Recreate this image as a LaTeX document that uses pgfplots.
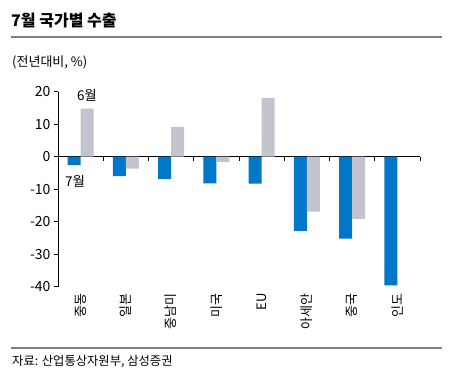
\documentclass[border=0pt]{standalone}
\usepackage{fontspec}
\setmainfont{Noto Sans CJK KR}
\usepackage{pgfplots}
\pgfplotsset{compat=1.18}
\definecolor{barblue}{RGB}{0,119,200}
\definecolor{bargray}{RGB}{195,196,206}
\definecolor{rulegray}{RGB}{128,128,128}
\begin{document}
\begin{tikzpicture}
\useasboundingbox (0,0) rectangle (449pt,374pt);
\node[anchor=west, font=\fontsize{16}{19}\selectfont\bfseries, inner sep=0] at (11pt,353pt) {7월 국가별 수출};
\draw[rulegray, line width=1.8pt] (11pt,337.3pt) -- (442pt,337.3pt);
\node[anchor=west, font=\fontsize{13}{15}\selectfont, inner sep=0] at (12pt,312pt) {(전년대비, \%)};
\draw[rulegray, line width=1.8pt] (11pt,25.7pt) -- (442pt,25.7pt);
\node[anchor=west, font=\fontsize{12.3}{14}\selectfont, inner sep=0] at (12pt,12pt) {자료: 산업통상자원부, 삼성증권};
\begin{axis}[
  at={(58pt,87.3pt)}, anchor=south west,
  scale only axis, width=362pt, height=195pt,
  xmin=0.5, xmax=8.5, ymin=-40, ymax=20,
  axis y line=left, axis x line=middle,
  axis line style={-, line width=0.8pt, black},
  ytick={-40,-30,-20,-10,0,10,20},
  yticklabels={-40,-30,-20,-10,0,10,20},
  xtick={0.5,1.5,2.5,3.5,4.5,5.5,6.5,7.5,8.5},
  xticklabels={},
  tick align=outside, major tick length=4pt,
  tick style={black, line width=0.8pt},
  every tick label/.append style={font=\fontsize{14}{16}\selectfont},
  ybar=0pt, bar width=13pt,
  clip=false,
]
\addplot[fill=barblue, draw=none] coordinates {(1,-2.6) (2,-6.0) (3,-6.8) (4,-8.2) (5,-8.3) (6,-22.8) (7,-25.2) (8,-39.6)};
\addplot[fill=bargray, draw=none] coordinates {(1,14.8) (2,-3.7) (3,9.2) (4,-1.7) (5,18.1) (6,-16.9) (7,-19.1)};
\node[font=\fontsize{13.5}{15}\selectfont, inner sep=0] at (axis cs:1.14,19.0) {6월};
\node[font=\fontsize{13.5}{15}\selectfont, inner sep=0] at (axis cs:0.88,-7.6) {7월};
\node[rotate=90, anchor=east, inner sep=0, font=\fontsize{13}{14}\selectfont] at (axis cs:1,-42) {중동};
\node[rotate=90, anchor=east, inner sep=0, font=\fontsize{13}{14}\selectfont] at (axis cs:2,-42) {일본};
\node[rotate=90, anchor=east, inner sep=0, font=\fontsize{13}{14}\selectfont] at (axis cs:3,-42) {중남미};
\node[rotate=90, anchor=east, inner sep=0, font=\fontsize{13}{14}\selectfont] at (axis cs:4,-42) {미국};
\node[rotate=90, anchor=east, inner sep=0, font=\fontsize{13}{14}\selectfont] at (axis cs:5,-42) {EU};
\node[rotate=90, anchor=east, inner sep=0, font=\fontsize{13}{14}\selectfont] at (axis cs:6,-42) {아세안};
\node[rotate=90, anchor=east, inner sep=0, font=\fontsize{13}{14}\selectfont] at (axis cs:7,-42) {중국};
\node[rotate=90, anchor=east, inner sep=0, font=\fontsize{13}{14}\selectfont] at (axis cs:8,-42) {인도};
\end{axis}
\end{tikzpicture}
\end{document}
